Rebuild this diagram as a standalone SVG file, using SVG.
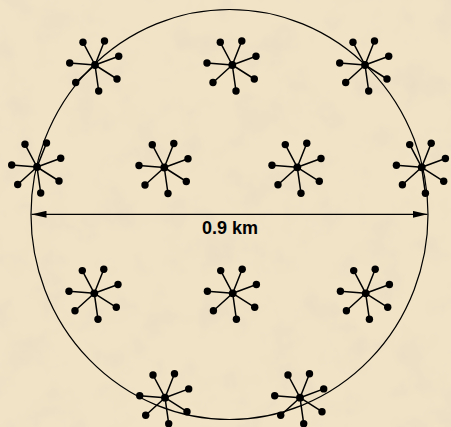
<svg xmlns="http://www.w3.org/2000/svg" xmlns:xlink="http://www.w3.org/1999/xlink" width="451" height="427" viewBox="0 0 451 427">
<style>
.spoke{stroke:#000;stroke-width:1.5;fill:none}
.dot{fill:#000}
.outline{fill:none;stroke:#000;stroke-width:1.2}
.dim{stroke:#000;stroke-width:1.2;fill:none}
.label{font-family:"Liberation Sans",Arial,sans-serif;font-weight:bold;font-size:18px;fill:#000;text-anchor:middle}
</style>
<defs>
<filter id="paper" x="0" y="0" width="100%" height="100%">
<feTurbulence type="fractalNoise" baseFrequency="0.03" numOctaves="4" seed="7" result="n"/>
<feColorMatrix in="n" type="matrix" values="0 0 0 0 0.82  0 0 0 0 0.72  0 0 0 0 0.55  0 0 0 1.6 -0.7" result="c"/>
<feComposite in="c" in2="SourceGraphic" operator="over"/>
</filter>
<g id="star">
<path class="spoke" d="M0 0L-12 -22.7M0 0L9.5 -24M0 0L23.7 -8.8M0 0L-25.3 -2M0 0L22 14M0 0L-19.3 17.5M0 0L3.7 26"/>
<circle class="dot" r="3.9"/>
<circle class="dot" cx="-12" cy="-22.7" r="3.7"/>
<circle class="dot" cx="9.5" cy="-24" r="3.7"/>
<circle class="dot" cx="23.7" cy="-8.8" r="3.7"/>
<circle class="dot" cx="-25.3" cy="-2" r="3.7"/>
<circle class="dot" cx="22" cy="14" r="3.7"/>
<circle class="dot" cx="-19.3" cy="17.5" r="3.7"/>
<circle class="dot" cx="3.7" cy="26" r="3.7"/>
</g>
<marker id="ah" viewBox="0 0 15 7" refX="15" refY="3.5" markerWidth="15" markerHeight="7" markerUnits="userSpaceOnUse" orient="auto-start-reverse">
<path d="M0 0L15 3.5L0 7z" fill="#000"/>
</marker>
</defs>
<rect width="451" height="427" fill="#f1e3c6" filter="url(#paper)"/>
<g id="boundary">
<ellipse class="outline" cx="229.5" cy="214.5" rx="198.5" ry="205"/>
</g>
<g id="connectors">
<line class="dim" x1="31.5" y1="214.3" x2="427.5" y2="214.3" marker-start="url(#ah)" marker-end="url(#ah)"/>
</g>
<text class="label" x="230" y="234">0.9 km</text>
<g id="s1"><use xlink:href="#star" x="95" y="65"/></g>
<g id="s2"><use xlink:href="#star" x="232.3" y="65"/></g>
<g id="s3"><use xlink:href="#star" x="365" y="65"/></g>
<g id="s4"><use xlink:href="#star" x="37" y="167"/></g>
<g id="s5"><use xlink:href="#star" x="164.3" y="167.5"/></g>
<g id="s6"><use xlink:href="#star" x="297.3" y="167.3"/></g>
<g id="s7"><use xlink:href="#star" x="421.7" y="167.3"/></g>
<g id="s8"><use xlink:href="#star" x="94.3" y="293.3"/></g>
<g id="s9"><use xlink:href="#star" x="232.7" y="293.3"/></g>
<g id="s10"><use xlink:href="#star" x="365.7" y="293.3"/></g>
<g id="s11"><use xlink:href="#star" x="165" y="397.7"/></g>
<g id="s12"><use xlink:href="#star" x="300" y="397.7"/></g>
</svg>
